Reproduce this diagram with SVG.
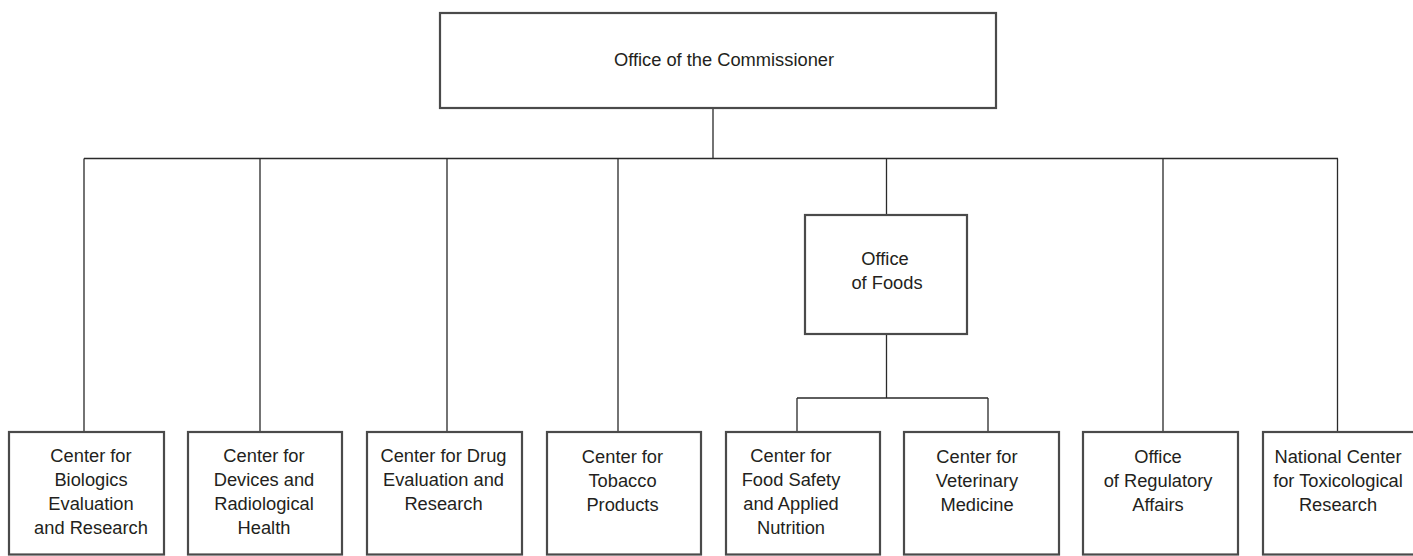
<svg xmlns="http://www.w3.org/2000/svg" width="1413" height="556" viewBox="0 0 1413 556">
<style>
.box{fill:#fff;stroke:#4a4a4a;stroke-width:2.2}
.lbl{font-family:"Liberation Sans",Arial,Helvetica,sans-serif;font-size:18.3px;fill:#231f20;text-anchor:middle}
.con{fill:none;stroke:#2a2a2a;stroke-width:1.3}
</style>
<rect width="1413" height="556" fill="#fff"/>
<g id="connectors">
<path class="con" d="M713,108V158.5M84,158.5H1338M84,158.5V432M260,158.5V432M447,158.5V432M618,158.5V432M1163,158.5V432M1337.5,158.5V432M886.5,158.5V215M886.5,334V398M797,398H988M797,398V432M988,398V432"/>
</g>
<g id="commissioner">
<rect class="box" x="440" y="13" width="556" height="95"/>
<text class="lbl" x="724" y="66">Office of the Commissioner</text>
</g>
<g id="office-of-foods">
<rect class="box" x="805" y="215" width="162" height="119"/>
<text class="lbl" x="885" y="265">Office</text>
<text class="lbl" x="887" y="289">of Foods</text>
</g>
<g id="cber">
<rect class="box" x="9" y="432" width="155" height="122.5"/>
<text class="lbl" x="91" y="462">Center for</text>
<text class="lbl" x="91" y="486">Biologics</text>
<text class="lbl" x="91" y="510">Evaluation</text>
<text class="lbl" x="91" y="534">and Research</text>
</g>
<g id="cdrh">
<rect class="box" x="188" y="432" width="154" height="122.5"/>
<text class="lbl" x="264" y="462">Center for</text>
<text class="lbl" x="264" y="486">Devices and</text>
<text class="lbl" x="264" y="510">Radiological</text>
<text class="lbl" x="264" y="534">Health</text>
</g>
<g id="cder">
<rect class="box" x="367" y="432" width="155" height="122.5"/>
<text class="lbl" x="443.5" y="462">Center for Drug</text>
<text class="lbl" x="443.5" y="486">Evaluation and</text>
<text class="lbl" x="443.5" y="510">Research</text>
</g>
<g id="ctp">
<rect class="box" x="547" y="432" width="154" height="122.5"/>
<text class="lbl" x="622.5" y="463">Center for</text>
<text class="lbl" x="622.5" y="487">Tobacco</text>
<text class="lbl" x="622.5" y="511">Products</text>
</g>
<g id="cfsan">
<rect class="box" x="726" y="432" width="154" height="122.5"/>
<text class="lbl" x="791" y="462">Center for</text>
<text class="lbl" x="791" y="486">Food Safety</text>
<text class="lbl" x="791" y="510">and Applied</text>
<text class="lbl" x="791" y="534">Nutrition</text>
</g>
<g id="cvm">
<rect class="box" x="904" y="432" width="155" height="122.5"/>
<text class="lbl" x="977" y="463">Center for</text>
<text class="lbl" x="977" y="487">Veterinary</text>
<text class="lbl" x="977" y="511">Medicine</text>
</g>
<g id="ora">
<rect class="box" x="1083" y="432" width="155" height="122.5"/>
<text class="lbl" x="1158" y="463">Office</text>
<text class="lbl" x="1158" y="487">of Regulatory</text>
<text class="lbl" x="1158" y="511">Affairs</text>
</g>
<g id="nctr">
<rect class="box" x="1263" y="432" width="156" height="122.5"/>
<text class="lbl" x="1338" y="463">National Center</text>
<text class="lbl" x="1338" y="487">for Toxicological</text>
<text class="lbl" x="1338" y="511">Research</text>
</g>
</svg>
